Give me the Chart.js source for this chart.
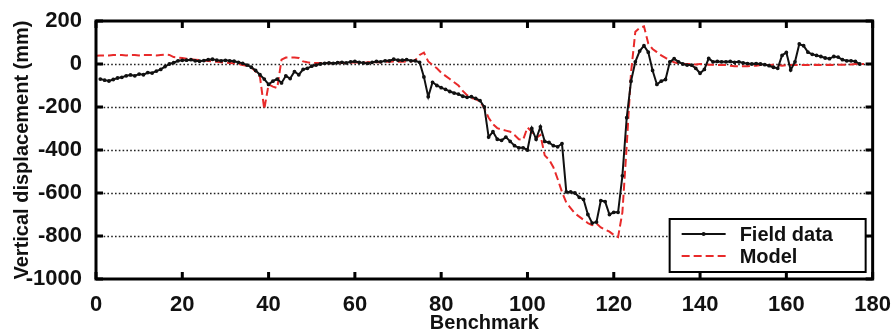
<!DOCTYPE html>
<html>
<head>
<meta charset="utf-8">
<script src="https://cdn.jsdelivr.net/npm/chart.js@4.4.1/dist/chart.umd.min.js"></script>
<style>
  body { margin: 0; background: #fff; }
  #box { width: 896px; height: 333px; }
</style>
</head>
<body>
<div id="box"><canvas id="myChart"></canvas></div>
<script>
// dados (mm)
const fieldBench = [
  1,2,3,4,5,6,7,8,9,10,11,12,13,14,15,16,17,18,19,20,
  21,22,23,24,25,26,27,28,29,30,31,32,33,34,35,36,37,38,39,40,
  41,42,43,44,45,46,47,48,49,50,51,52,53,54,55,56,57,58,59,60,
  61,62,63,64,65,66,67,68,69,70,71,72,73,74,75,76,77,78,79,80,
  81,82,83,84,85,86,87,88,89,90,91,92,93,94,95,96,97,98,99,100,
  101,102,103,104,105,106,107,108,109,110,111,112,113,114,115,116,117,118,119,120,
  121,122,123,124,125,126,127,128,129,130,131,132,133,134,135,136,137,138,139,140,
  141,142,143,144,145,146,147,148,149,150,151,152,153,154,155,156,157,158,159,160,
  161,162,163,164,165,166,167,168,169,170,171,172,173,174,175,176,177
];
const fieldData = [
  -70,-75,-79,-72,-65,-62,-55,-51,-55,-47,-50,-40,-42,-33,-25,-12,0,6,15,17,
  18,20,15,13,16,20,22,18,15,17,15,13,8,3,-5,-15,-30,-50,-70,-95,
  -80,-70,-88,-55,-68,-35,-50,-25,-20,-10,-5,0,3,5,3,6,8,5,10,12,
  8,5,3,8,12,10,15,15,22,18,18,20,15,15,8,-60,-152,-85,-100,-110,
  -118,-128,-135,-140,-150,-155,-152,-160,-170,-200,-340,-315,-350,-355,-340,-360,-380,-390,-390,-400,
  -300,-350,-292,-360,-365,-380,-385,-370,-595,-595,-600,-620,-630,-700,-740,-735,-635,-640,-700,-690,
  -690,-520,-250,-80,10,60,85,55,-30,-95,-80,-72,10,25,10,0,-5,-5,-20,-43,
  -25,26,10,12,10,10,12,8,10,5,2,0,2,0,-3,-8,-15,-20,40,54,
  -28,10,93,85,55,45,40,35,28,25,35,32,20,15,15,12,0
];

const modelBench = [
  0,1,2,3,4,5,6,7,8,9,10,11,12,13,14,15,16,17,18,19,20,
  21,22,23,24,25,26,27,28,29,30,31,32,33,34,35,36,37,38,39,40,
  41,42,43,44,45,46,47,48,49,50,51,52,53,54,55,56,57,58,59,60,
  61,62,63,64,65,66,67,68,69,70,71,72,73,74,75,76,77,78,79,80,
  81,82,83,84,85,86,87,88,89,90,91,92,93,94,95,96,97,98,99,100,
  101,102,103,104,105,106,107,108,109,110,111,112,113,114,115,116,117,118,119,120,
  121,122,123,124,125,126,127,128,129,130,131,132,133,134,135,136,137,138,139,140,
  141,142,143,144,145,146,147,148,149,150,151,152,153,154,155,156,157,158,159,160,
  161,162,163,164,165,166,167,168,169,170,171,172,173,174,175,176,177,178
];
const modelData = [
  38,40,40,40,42,42,42,40,42,42,40,42,42,42,40,42,44,42,32,30,28,
  25,22,20,18,16,14,12,10,8,6,5,3,0,-5,-8,-15,-35,-60,-210,-95,
  -105,-112,20,30,30,30,28,12,8,5,5,5,5,4,5,6,5,5,6,8,
  6,5,8,10,8,8,10,10,12,10,10,12,12,18,42,53,12,-5,-20,-40,
  -55,-70,-85,-100,-125,-145,-158,-163,-175,-205,-250,-280,-298,-305,-310,-315,-330,-350,-352,-295,
  -315,-345,-330,-425,-445,-480,-535,-595,-645,-670,-695,-710,-725,-740,-750,-742,-760,-770,-780,-795,
  -805,-690,-380,-40,150,168,175,95,70,55,40,28,18,8,3,0,0,0,-2,0,
  0,-3,-3,-5,-5,-5,-8,-10,-10,-10,-10,-8,-8,-5,-5,-5,-3,-5,-8,-5,
  -5,-5,-5,-5,-5,-5,-3,-5,-5,-3,-5,-3,-3,-3,-2,0,0,0
];

const xTicks = [0, 20, 40, 60, 80, 100, 120, 140, 160, 180];
const yTicks = [-1000, -800, -600, -400, -200, 0, 200];

const fonte = "'Liberation Sans', Arial, sans-serif";
const vermelho = 'rgb(232,42,42)';

function pares(xs, ys){
  var out = [];
  for (var i = 0; i < xs.length; i++) out.push({x: xs[i], y: ys[i]});
  return out;
}

// moldura, grade pontilhada, ticks para dentro e legenda com caixa
const moldura = {
  id: 'moldura',
  beforeDatasetsDraw(chart){
    const ctx = chart.ctx, a = chart.chartArea, ys = chart.scales.y;
    ctx.save();
    ctx.strokeStyle = '#222';
    ctx.lineWidth = 1.6;
    ctx.setLineDash([1.6, 2.2]);
    yTicks.forEach(function(v){
      if (v === 200 || v === -1000) return;
      var py = Math.round(ys.getPixelForValue(v)) + 0.5;
      ctx.beginPath(); ctx.moveTo(a.left, py); ctx.lineTo(a.right, py); ctx.stroke();
    });
    ctx.restore();
  },
  afterDraw(chart){
    const ctx = chart.ctx, a = chart.chartArea;
    const xs = chart.scales.x, ys = chart.scales.y;
    ctx.save();
    ctx.strokeStyle = '#000';
    ctx.lineWidth = 3;
    ctx.strokeRect(a.left, a.top, a.right - a.left, a.bottom - a.top);
    var t = 7;
    xTicks.forEach(function(v){
      var px = xs.getPixelForValue(v);
      ctx.beginPath();
      ctx.moveTo(px, a.bottom); ctx.lineTo(px, a.bottom - t);
      ctx.moveTo(px, a.top); ctx.lineTo(px, a.top + t);
      ctx.stroke();
    });
    yTicks.forEach(function(v){
      var py = ys.getPixelForValue(v);
      ctx.beginPath();
      ctx.moveTo(a.left, py); ctx.lineTo(a.left + t, py);
      ctx.moveTo(a.right, py); ctx.lineTo(a.right - t, py);
      ctx.stroke();
    });

    // legenda
    var bx = a.right - 203, by = a.bottom - 60, bw = 196, bh = 53;
    ctx.fillStyle = '#fff';
    ctx.fillRect(bx, by, bw, bh);
    ctx.lineWidth = 2;
    ctx.strokeStyle = '#000';
    ctx.strokeRect(bx, by, bw, bh);
    chart.data.datasets.forEach(function(ds, i){
      var ly = by + 15 + i * 22;
      ctx.save();
      ctx.strokeStyle = ds.borderColor;
      ctx.lineWidth = 2;
      ctx.setLineDash(ds.borderDash || []);
      ctx.beginPath(); ctx.moveTo(bx + 12, ly); ctx.lineTo(bx + 56, ly); ctx.stroke();
      if (ds.pointRadius > 0) {
        ctx.fillStyle = ds.borderColor;
        ctx.beginPath(); ctx.arc(bx + 34, ly, 2, 0, Math.PI * 2); ctx.fill();
      }
      ctx.restore();
      ctx.fillStyle = '#111';
      ctx.font = 'bold 20px ' + fonte;
      ctx.textBaseline = 'middle';
      ctx.fillText(ds.label, bx + 70, ly + 1);
    });
    ctx.restore();
  }
};

const config = {
  type: 'line',
  data: {
    datasets: [{
      label: 'Field data',
      data: pares(fieldBench, fieldData),
      borderColor: '#111',
      backgroundColor: '#111',
      borderWidth: 2,
      pointRadius: 0.9,
      pointHoverRadius: 0,
      tension: 0
    }, {
      label: 'Model',
      data: pares(modelBench, modelData),
      borderColor: vermelho,
      backgroundColor: vermelho,
      borderWidth: 2,
      borderDash: [8, 4],
      pointRadius: 0,
      tension: 0
    }]
  },
  options: {
    responsive: true,
    maintainAspectRatio: false,
    animation: false,
    layout: { padding: { left: 0, right: 21, top: 21, bottom: 0 } },
    plugins: { legend: { display: false }, tooltip: { enabled: false } },
    scales: {
      x: {
        type: 'linear', min: 0, max: 180,
        afterBuildTicks: function(s){ s.ticks = xTicks.map(function(v){ return {value: v}; }); },
        grid: { display: false },
        border: { display: false },
        ticks: { color: '#111', padding: 5, maxRotation: 0,
                 callback: function(v){ return String(v); },
                 font: { family: fonte, size: 22, weight: 'bold' } },
        title: { display: true, text: 'Benchmark', color: '#111', padding: { top: 0, bottom: -2 },
                 font: { family: fonte, size: 20, weight: 'bold' } },
        afterFit: function(s){ s.height = 54; }
      },
      y: {
        min: -1000, max: 200,
        afterBuildTicks: function(s){ s.ticks = yTicks.map(function(v){ return {value: v}; }); },
        grid: { display: false },
        border: { display: false },
        ticks: { color: '#111', padding: 6,
                 callback: function(v){ return String(v); },
                 font: { family: fonte, size: 22, weight: 'bold' } },
        title: { display: true, text: 'Vertical displacement (mm)', color: '#111', padding: { top: 10, bottom: 0 },
                 font: { family: fonte, size: 20, weight: 'bold' } },
        afterFit: function(s){ s.width = 96; }
      }
    }
  },
  plugins: [moldura]
};

myChart = new Chart(document.getElementById('myChart'), config);
</script>
</body>
</html>
